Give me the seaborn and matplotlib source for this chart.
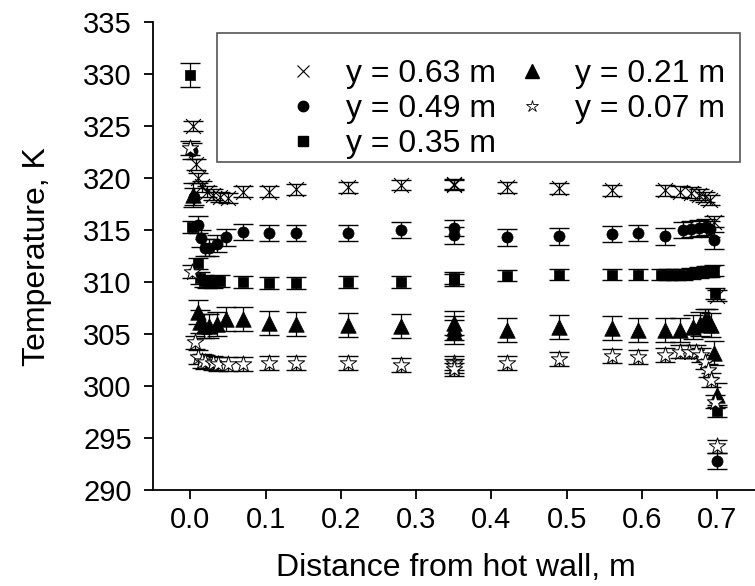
import matplotlib
matplotlib.use("Agg")
import matplotlib.pyplot as plt
import seaborn as sns
from matplotlib.lines import Line2D
from matplotlib.patches import Rectangle
from matplotlib.ticker import FormatStrFormatter

# ---------------- data ----------------
labels = ["y = 0.63 m", "y = 0.49 m", "y = 0.35 m", "y = 0.21 m", "y = 0.07 m"]

x_063 = [0.003, 0.007, 0.010, 0.015, 0.022, 0.030, 0.040, 0.050, 0.070, 0.105, 0.140, 0.210,
         0.280, 0.350, 0.350, 0.420, 0.490, 0.560, 0.630, 0.650, 0.665, 0.675, 0.684, 0.690,
         0.695, 0.699]
T_063 = [325.0, 321.3, 320.0, 319.2, 318.7, 318.4, 318.2, 318.1, 318.7, 318.7, 318.9, 319.1,
         319.3, 319.4, 319.3, 319.1, 319.0, 318.8, 318.8, 318.7, 318.6, 318.4, 318.2, 317.9,
         315.8, 308.7]
err_063 = 0.5

x_049 = [0.002, 0.005, 0.010, 0.014, 0.020, 0.025, 0.035, 0.048, 0.070, 0.105, 0.140, 0.210,
         0.280, 0.350, 0.350, 0.420, 0.490, 0.560, 0.595, 0.630, 0.655, 0.665, 0.675, 0.685,
         0.690, 0.695, 0.700]
T_049 = [322.6, 318.2, 315.5, 314.2, 313.3, 313.3, 313.7, 314.3, 314.8, 314.7, 314.7, 314.7,
         315.0, 315.2, 314.5, 314.3, 314.4, 314.6, 314.7, 314.4, 315.0, 315.1, 315.2, 315.3,
         315.1, 314.0, 292.8]
err_049 = 0.8

x_035 = [0.000, 0.002, 0.010, 0.013, 0.018, 0.022, 0.030, 0.040, 0.070, 0.105, 0.140, 0.210,
         0.280, 0.350, 0.350, 0.420, 0.490, 0.560, 0.595, 0.625, 0.635, 0.645, 0.655, 0.665,
         0.675, 0.685, 0.690, 0.695, 0.697, 0.700]
T_035 = [329.9, 315.3, 311.8, 310.4, 310.1, 310.0, 310.0, 310.1, 310.0, 309.9, 309.9, 310.0,
         310.0, 310.2, 310.4, 310.6, 310.7, 310.7, 310.7, 310.7, 310.7, 310.7, 310.7, 310.8,
         310.9, 311.0, 311.0, 311.1, 308.9, 297.6]
err_035 = [1.15, 0.55, 0.55, 0.55, 0.55, 0.55, 0.55, 0.55, 0.55, 0.55, 0.55, 0.55,
           0.55, 0.55, 0.55, 0.55, 0.55, 0.55, 0.55, 0.55, 0.55, 0.55, 0.55, 0.55,
           0.55, 0.55, 0.55, 0.55, 0.55, 0.55]

x_021 = [0.003, 0.010, 0.013, 0.018, 0.025, 0.035, 0.048, 0.070, 0.105, 0.140, 0.210, 0.280,
         0.350, 0.350, 0.350, 0.420, 0.490, 0.560, 0.595, 0.630, 0.650, 0.667, 0.677, 0.683,
         0.688, 0.691, 0.695, 0.700]
T_021 = [318.4, 307.1, 306.2, 305.8, 305.8, 306.0, 306.4, 306.4, 306.1, 306.0, 305.9, 305.8,
         306.1, 305.6, 305.2, 305.4, 305.7, 305.6, 305.4, 305.4, 305.4, 305.7, 306.0, 306.3,
         306.3, 305.9, 303.2, 299.1]
err_021 = 1.15

x_007 = [0.000, 0.002, 0.006, 0.010, 0.015, 0.020, 0.030, 0.037, 0.050, 0.070, 0.105, 0.140,
         0.210, 0.280, 0.350, 0.350, 0.350, 0.420, 0.490, 0.560, 0.595, 0.630, 0.650, 0.663,
         0.671, 0.678, 0.683, 0.687, 0.691, 0.697, 0.700]
T_007 = [322.9, 311.0, 304.2, 302.8, 302.4, 302.3, 302.2, 302.1, 302.1, 302.1, 302.2, 302.2,
         302.2, 302.0, 302.2, 301.9, 301.6, 302.2, 302.6, 302.9, 302.8, 303.0, 303.3, 303.3,
         303.3, 303.0, 302.3, 301.5, 300.6, 298.5, 294.2]
err_007 = 0.65

x_ticks = [0.0, 0.1, 0.2, 0.3, 0.4, 0.5, 0.6, 0.7]
y_ticks = [290, 295, 300, 305, 310, 315, 320, 325, 330, 335]

# ---------------- style ----------------
sns.set_theme(style="ticks")
plt.rcParams['font.family'] = ['Liberation Sans', 'DejaVu Sans']

W, H = 755, 586
fig = plt.figure(figsize=(W / 100, H / 100), dpi=100)
ax_l, ax_r, ax_t, ax_b = 152.7, 755.0, 22.0, 490.0
ax = fig.add_axes([ax_l / W, 1 - ax_b / H, (ax_r - ax_l) / W, (ax_b - ax_t) / H])

series = [
    (x_063, T_063, err_063, dict(marker='x', s=115, color='black', linewidth=0.8)),
    (x_049, T_049, err_049, dict(marker='o', s=64, color='black', edgecolor='black', linewidth=0.5)),
    (x_035, T_035, err_035, dict(marker='s', s=62, color='black', edgecolor='black', linewidth=0.5)),
    (x_021, T_021, err_021, dict(marker='^', s=125, color='black', edgecolor='black', linewidth=0.5)),
    (x_007, T_007, err_007, dict(marker='*', s=155, color='white', edgecolor='black', linewidth=0.7)),
]

for xs, ts, e, kw in series:
    ax.errorbar(xs, ts, yerr=e, fmt='none', ecolor='black', elinewidth=0.9,
                capsize=7.5, capthick=1.0, zorder=2)
    sns.scatterplot(x=xs, y=ts, ax=ax, legend=False, zorder=3, **kw)

ax.set_xlim(-0.05, 0.75)
ax.set_ylim(290, 335)
ax.set_xticks(x_ticks)
ax.set_yticks(y_ticks)
ax.xaxis.set_major_formatter(FormatStrFormatter('%.1f'))
sns.despine(ax=ax)
for sp in ['left', 'bottom']:
    ax.spines[sp].set_linewidth(1.3)
    ax.spines[sp].set_color('black')
ax.tick_params(axis='both', direction='out', length=6.5, width=1.3, color='black',
               labelsize=21, labelcolor='black')
ax.tick_params(axis='y', pad=8.5)
ax.tick_params(axis='x', pad=5)

ax.set_xlabel("Distance from hot wall, m", fontsize=23, color='black')
ax.set_ylabel("Temperature, K", fontsize=23, color='black')
ax.xaxis.set_label_coords(0.5036, (ax_b - 553) / (ax_b - ax_t))
ax.yaxis.set_label_coords((52 - ax_l) / (ax_r - ax_l), 0.498)

# legend frame
x0 = (217 - ax_l) / (ax_r - ax_l)
x1 = (740 - ax_l) / (ax_r - ax_l)
y0 = (ax_b - 162) / (ax_b - ax_t)
y1 = (ax_b - 33) / (ax_b - ax_t)
ax.add_patch(Rectangle((x0, y0), x1 - x0, y1 - y0, transform=ax.transAxes,
                       facecolor='white', edgecolor='#555555', linewidth=1.2, zorder=4))

handles = [
    Line2D([], [], ls='none', marker='x', color='black', ms=9, mew=0.8),
    Line2D([], [], ls='none', marker='o', color='black', ms=7.5),
    Line2D([], [], ls='none', marker='s', color='black', ms=7),
    Line2D([], [], ls='none', marker='^', color='black', ms=9.5),
    Line2D([], [], ls='none', marker='*', mfc='white', mec='black', ms=9, mew=0.6),
]
cx = (506 - ax_l) / (ax_r - ax_l)
cy = (ax_b - 109) / (ax_b - ax_t)
leg = ax.legend(handles, labels, ncol=2, frameon=False, loc='center',
                bbox_to_anchor=(cx, cy), fontsize=23, handlelength=1.0,
                handletextpad=0.85, columnspacing=0.6, labelspacing=0.165,
                borderpad=0.0, borderaxespad=0.0)
leg.set_zorder(5)
for t in leg.get_texts():
    t.set_color('black')

fig.savefig("out.png", dpi=100, facecolor='white')
